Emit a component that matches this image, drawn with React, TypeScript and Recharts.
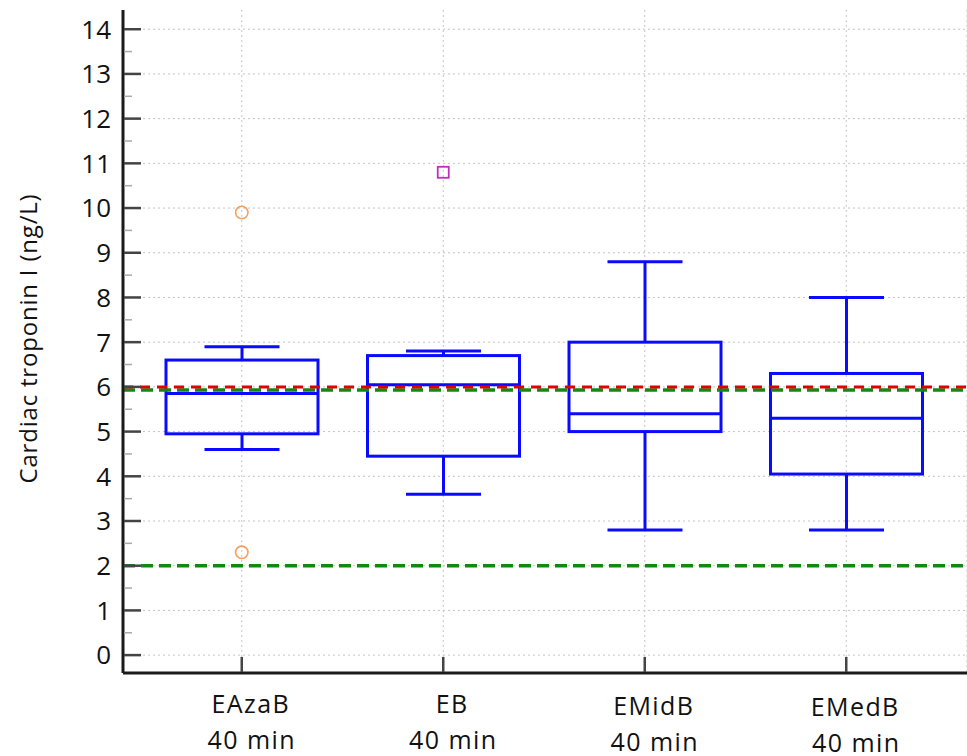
import {
  Bar,
  CartesianGrid,
  ComposedChart,
  ReferenceLine,
  Scatter,
  XAxis,
  YAxis,
} from "recharts";

document.body.style.margin = "0";

// groups + second line of the x labels
const groups = ["EAzaB", "EB", "EMidB", "EMedB"];
const timeLabel = "40 min";

// box plot statistics (ng/L)
const lowWhisker = [4.6, 3.6, 2.8, 2.8];
const q1 = [4.95, 4.45, 5.0, 4.05];
const median = [5.85, 6.05, 5.4, 5.3];
const q3 = [6.6, 6.7, 7.0, 6.3];
const highWhisker = [6.9, 6.8, 8.8, 8.0];

// outside values (circles) and far out values (squares)
const outsideHigh = [9.9, null, null, null];
const outsideLow = [2.3, null, null, null];
const farOut = [null, 10.8, null, null];

// horizontal reference lines
const redLine = 6.0;
const greenLines = [5.93, 2.0];

const yMajor = [0, 1, 2, 3, 4, 5, 6, 7, 8, 9, 10, 11, 12, 13, 14];
const yTicks = [0, 0.5, 1, 1.5, 2, 2.5, 3, 3.5, 4, 4.5, 5, 5.5, 6, 6.5, 7, 7.5, 8, 8.5, 9, 9.5, 10, 10.5, 11, 11.5, 12, 12.5, 13, 13.5, 14];

const data = groups.map((g, i) => ({
  group: g,
  low: lowWhisker[i],
  q1: q1[i],
  median: median[i],
  q3: q3[i],
  high: highWhisker[i],
  outHigh: outsideHigh[i],
  outLow: outsideLow[i],
  farOut: farOut[i],
}));

const BLUE = "#0a0aff";
const TICK_MARGIN = 12;
const labelShift = [0, 0, 2, 3];

function BoxShape(props: any) {
  const { x, y, width, height, payload } = props;
  const top = Math.min(y, y + height);
  const h = Math.abs(height);
  const { low, high } = payload;
  const py = (v: number) => top + (h * (high - v)) / (high - low);
  const cx = x + width / 2;
  const cap = 37.5;
  return (
    <g stroke={BLUE} strokeWidth={3} fill="none">
      <rect x={x} y={py(payload.q3)} width={width} height={py(payload.q1) - py(payload.q3)} />
      <line x1={x} x2={x + width} y1={py(payload.median)} y2={py(payload.median)} />
      <line x1={cx} x2={cx} y1={py(high)} y2={py(payload.q3)} />
      <line x1={cx} x2={cx} y1={py(payload.q1)} y2={py(low)} />
      <line x1={cx - cap} x2={cx + cap} y1={py(high)} y2={py(high)} />
      <line x1={cx - cap} x2={cx + cap} y1={py(low)} y2={py(low)} />
    </g>
  );
}

const circleShape = (key: string) => (p: any) => {
  if (p.payload[key] == null || !isFinite(p.cy)) return <g />;
  return <circle cx={p.cx} cy={p.cy} r={6.2} fill="none" stroke="#f7a060" strokeWidth={1.6} />;
};

const squareShape = (p: any) => {
  if (p.payload.farOut == null || !isFinite(p.cy)) return <g />;
  return <rect x={p.cx - 5.5} y={p.cy - 5.5} width={11} height={11} fill="none" stroke="#c030c0" strokeWidth={1.8} />;
};

function YTick(props: any) {
  const { x, y, payload } = props;
  const v = payload.value;
  const major = Number.isInteger(v);
  const axisX = x + TICK_MARGIN;
  return (
    <g>
      <line
        x1={axisX + 1}
        x2={axisX + (major ? 18 : 9)}
        y1={y}
        y2={y}
        stroke={major ? "#444" : "#aaa"}
        strokeWidth={major ? 2.5 : 1.5}
      />
      {major && (
        <text x={x} y={y} dy="0.36em" textAnchor="end" fontSize={26} fill="#111">
          {v}
        </text>
      )}
    </g>
  );
}

function XTick(props: any) {
  const { x, y, payload, index } = props;
  const s = labelShift[index] || 0;
  return (
    <g>
      <line x1={x} x2={x} y1={y - 1} y2={y - 16} stroke="#444" strokeWidth={2.5} />
      <text x={x + 9} y={y + 40 + s} textAnchor="middle" fontSize={25} letterSpacing={1.4} fill="#111">
        {payload.value}
      </text>
      <text x={x + 10} y={y + 76 + s} textAnchor="middle" fontSize={25} letterSpacing={1.4} fill="#111">
        {timeLabel}
      </text>
    </g>
  );
}

const yLabel = (p: any) => {
  const vb = p.viewBox || { y: 10, height: 663 };
  const cy = vb.y + vb.height / 2 - 3;
  return (
    <text
      x={27}
      y={cy}
      transform={`rotate(-90 27 ${cy})`}
      textAnchor="middle"
      dominantBaseline="central"
      fontSize={24}
      letterSpacing={0.8}
      fill="#111"
    >
      Cardiac troponin I (ng/L)
    </text>
  );
};

export default function App() {
  return (
    <div style={{ width: 967, height: 756, fontFamily: "'Open Sans', sans-serif", background: "#fff" }}>
      <ComposedChart width={967} height={756} data={data} margin={{ top: 10, right: 0, bottom: 0, left: 0 }}>
        <CartesianGrid stroke="#c4c4c4" strokeDasharray="2 3" horizontalValues={yMajor} />
        <XAxis
          dataKey="group"
          type="category"
          allowDuplicatedCategory={false}
          height={83}
          padding={{ left: 18, right: 20 }}
          tickSize={0}
          tickMargin={0}
          interval={0}
          tickLine={false}
          axisLine={{ stroke: "#1a1a1a", strokeWidth: 3 }}
          tick={<XTick />}
        />
        <YAxis
          type="number"
          domain={[-0.4, 14.43]}
          allowDataOverflow
          ticks={yTicks}
          interval={0}
          width={123}
          tickSize={0}
          tickMargin={TICK_MARGIN}
          tickLine={false}
          axisLine={{ stroke: "#1a1a1a", strokeWidth: 3 }}
          tick={<YTick />}
          label={yLabel}
        />
        <Bar
          dataKey={(d: any) => [d.low, d.high]}
          barSize={152}
          shape={<BoxShape />}
          isAnimationActive={false}
        />
        {greenLines.map((v) => (
          <ReferenceLine key={v} y={v} stroke="#128a12" strokeWidth={3.5} strokeDasharray="12 6" />
        ))}
        <ReferenceLine y={redLine} stroke="#e00000" strokeWidth={3} strokeDasharray="10 7" />
        <Scatter dataKey="outHigh" shape={circleShape("outHigh")} isAnimationActive={false} />
        <Scatter dataKey="outLow" shape={circleShape("outLow")} isAnimationActive={false} />
        <Scatter dataKey="farOut" shape={squareShape} isAnimationActive={false} />
      </ComposedChart>
    </div>
  );
}
